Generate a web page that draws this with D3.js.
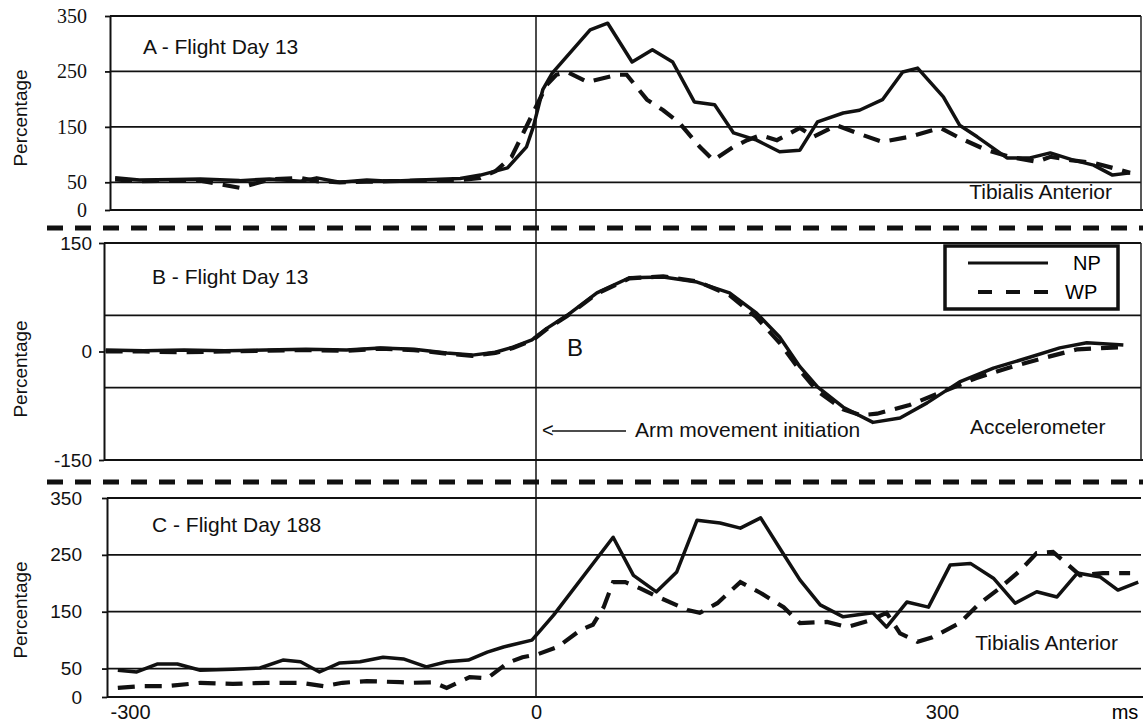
<!DOCTYPE html>
<html>
<head>
<meta charset="utf-8">
<script src="https://cdn.jsdelivr.net/npm/d3@7/dist/d3.min.js"></script>
<style>
  body { margin: 0; background: #fff; }
  svg { display: block; font-family: "Liberation Sans", Arial, sans-serif; }
</style>
</head>
<body>
<div id="chart"></div>
<script>
// ms from arm movement initiation, values in percent
var xTicks = [-300, 0, 300];

var tickA = [0, 50, 150, 250, 350];
var gridA = [50, 150, 250, 350];
var aNPTime = [-311,-293,-267,-248,-219,-197,-174,-162,-145,-125,-108,-86,-56,-41,-21,-7,-2,5,12,40,53,71,86,101,117,132,146,163,180,195,208,227,239,256,271,282,301,313,326,348,365,380,397,412,426,439];
var aNP = [58,54,55,56,53,56,52,58,50,54,52,54,57,63,76,114,150,217,247,325,337,267,289,267,195,190,139,126,105,108,159,175,180,199,249,256,204,153,132,94,94,103,90,81,63,67];
var aWPTime = [-311,-293,-267,-248,-219,-197,-174,-162,-145,-125,-108,-86,-56,-41,-30,-18,-12,-3,8,15,23,38,60,67,82,94,106,121,131,146,156,166,178,195,205,222,237,256,276,299,313,333,350,370,380,395,412,426,439];
var aWP = [55,52,53,53,40,55,58,52,50,51,52,53,54,58,70,96,126,171,226,244,249,231,244,244,199,180,157,114,90,114,126,135,126,148,132,153,139,123,132,148,130,108,96,87,96,90,85,76,67];

var tickB = [-150, 0, 150];
var gridB = [-150, -50, 50, 150];
var bNPTime = [-318,-290,-260,-230,-200,-170,-140,-115,-90,-66,-47,-30,-17,-3,8,23,45,69,94,119,143,163,180,195,208,227,249,269,289,313,338,363,387,407,434];
var bNP = [2,1,2,1,2,3,2,5,3,-2,-5,-1,6,16,32,50,81,102,103,96,81,53,20,-21,-49,-77,-98,-92,-71,-42,-23,-9,5,12,9];
var bWPTime = [-318,-290,-260,-230,-200,-170,-140,-115,-90,-66,-47,-30,-17,-3,8,23,45,69,94,119,143,163,180,195,208,227,240,252,276,300,325,350,375,400,434];
var bWP = [0,0,-1,0,1,2,1,4,2,-3,-6,-2,5,15,31,49,80,101,104,97,78,47,12,-26,-55,-80,-88,-86,-74,-56,-37,-22,-9,3,6];

var tickC = [0, 50, 150, 250, 350];
var gridC = [50, 150, 250, 350];
var cNPTime = [-309,-295,-280,-265,-248,-224,-204,-187,-174,-160,-145,-130,-113,-98,-81,-66,-50,-36,-24,-3,13,57,72,89,104,119,136,151,166,180,195,210,227,249,259,274,290,306,321,338,354,370,385,400,417,430,445];
var cNP = [47,44,58,58,47,49,51,65,62,44,60,62,70,67,53,62,65,79,88,100,144,281,214,185,220,311,306,297,315,262,206,162,141,148,123,167,158,232,235,209,165,185,176,218,211,188,202];
var cWPTime = [-309,-293,-273,-248,-224,-199,-174,-157,-143,-125,-100,-91,-76,-66,-49,-36,-21,-10,1,16,33,42,50,57,66,77,92,112,121,134,151,166,183,195,215,230,247,259,269,282,293,313,328,343,358,370,382,392,402,419,439];
var cWP = [16,19,19,25,23,25,25,19,25,28,26,25,26,16,35,33,60,70,75,88,118,127,158,202,202,191,174,153,148,165,202,183,158,130,132,123,135,148,112,97,105,130,165,192,223,253,255,235,214,218,218];

function zip(t, v) {
    return t.map(function(d, i) { return [d, v[i]]; });
}

var panels = [
    { title: 'A - Flight Day 13', domain: [0, 350], top: 16, bottom: 210, axisX: 110, pad: 18, serif: true,
      ticks: tickA, grid: gridA, np: zip(aNPTime, aNP), wp: zip(aWPTime, aWP), right: true,
      titleX: 143, titleY: 54, pctY: 118 },
    { title: 'B - Flight Day 13', domain: [-150, 150], top: 243, bottom: 460, axisX: 104, pad: 7, serif: false,
      ticks: tickB, grid: gridB, np: zip(bNPTime, bNP), wp: zip(bWPTime, bWP), right: true,
      titleX: 152, titleY: 284, pctY: 369 },
    { title: 'C - Flight Day 188', domain: [0, 350], top: 498, bottom: 697, axisX: 107, pad: 20, serif: false,
      ticks: tickC, grid: gridC, np: zip(cNPTime, cNP), wp: zip(cWPTime, cWP), right: false,
      titleX: 152, titleY: 532, pctY: 610 }
];

var width = 1143, height = 725, rightX = 1141;

var svg = d3.select("#chart").append("svg")
    .attr("width", width)
    .attr("height", height);

var x = d3.scaleLinear()
    .domain([-300, 300])
    .range([130, 942]);

// plain hyphen for negatives, like the original
var fmt = function(d) { return String(d); };

panels.forEach(function(p) {
    var y = d3.scaleLinear().domain(p.domain).range([p.bottom, p.top]);
    var g = svg.append("g");

    g.selectAll("line.grid")
        .data(p.grid)
        .enter().append("line")
        .attr("class", "grid")
        .attr("x1", p.axisX).attr("x2", rightX)
        .attr("y1", function(d) { return y(d); })
        .attr("y2", function(d) { return y(d); })
        .attr("stroke", "#111").attr("stroke-width", 1.8);

    // bottom line of the panel
    g.append("line")
        .attr("x1", p.axisX).attr("x2", 1143)
        .attr("y1", y(p.domain[0])).attr("y2", y(p.domain[0]))
        .attr("stroke", "#111").attr("stroke-width", 2);

    if (p.right) {
        g.append("line")
            .attr("x1", rightX).attr("x2", rightX)
            .attr("y1", p.top).attr("y2", p.bottom)
            .attr("stroke", "#222").attr("stroke-width", 1.5);
    }

    var axis = g.append("g")
        .attr("transform", "translate(" + p.axisX + ",0)")
        .call(d3.axisLeft(y).tickValues(p.ticks).tickFormat(fmt)
            .tickSizeInner(5).tickSizeOuter(0).tickPadding(p.pad));
    axis.select(".domain").attr("stroke", "#111").attr("stroke-width", 2);
    axis.selectAll(".tick line").attr("stroke", "#111").attr("stroke-width", 1.8);
    axis.selectAll(".tick text")
        .attr("fill", "#111")
        .style("font-size", p.serif ? "20px" : "19px")
        .style("font-family", p.serif ? "'Liberation Serif', serif" : null);

    var line = d3.line()
        .x(function(d) { return x(d[0]); })
        .y(function(d) { return y(d[1]); });

    g.append("path")
        .datum(p.wp)
        .attr("d", line)
        .attr("fill", "none")
        .attr("stroke", "#111")
        .attr("stroke-width", 4.2)
        .attr("stroke-dasharray", "17,10");

    g.append("path")
        .datum(p.np)
        .attr("d", line)
        .attr("fill", "none")
        .attr("stroke", "#111")
        .attr("stroke-width", 3.5)
        .attr("stroke-linejoin", "round");

    g.append("text")
        .attr("x", p.titleX).attr("y", p.titleY)
        .style("font-size", "21px")
        .attr("fill", "#111")
        .text(p.title);

    g.append("text")
        .attr("transform", "translate(20," + p.pctY + ") rotate(-90)")
        .attr("text-anchor", "middle")
        .attr("dominant-baseline", "central")
        .style("font-size", "19px")
        .attr("fill", "#111")
        .text("Percentage");
});

// separators between the panels
[228, 482].forEach(function(yy) {
    svg.append("line")
        .attr("x1", 47).attr("x2", 1143)
        .attr("y1", yy).attr("y2", yy)
        .attr("stroke", "#111").attr("stroke-width", 5)
        .attr("stroke-dasharray", "16,12");
});

// movement onset
svg.append("line")
    .attr("x1", x(0)).attr("x2", x(0))
    .attr("y1", 15).attr("y2", 698)
    .attr("stroke", "#111").attr("stroke-width", 1.5);

var xAxis = svg.append("g")
    .attr("transform", "translate(0,697)")
    .call(d3.axisBottom(x).tickValues(xTicks).tickFormat(fmt).tickSize(0).tickPadding(8));
xAxis.select(".domain").remove();
xAxis.selectAll(".tick text").attr("fill", "#111").style("font-size", "20px");

svg.append("text")
    .attr("x", 1125).attr("y", 719)
    .attr("text-anchor", "middle")
    .style("font-size", "20px")
    .text("ms");

// labels
var labels = [
    { t: "Tibialis Anterior", x: 1112, y: 199, anchor: "end", size: 21 },
    { t: "Tibialis Anterior", x: 1118, y: 650, anchor: "end", size: 21 },
    { t: "Accelerometer", x: 970, y: 434, anchor: "start", size: 21 },
    { t: "Arm movement initiation", x: 635, y: 437, anchor: "start", size: 21 },
    { t: "<", x: 542, y: 437, anchor: "start", size: 20 },
    { t: "B", x: 567, y: 356, anchor: "start", size: 24 }
];
svg.selectAll("text.lab")
    .data(labels)
    .enter().append("text")
    .attr("class", "lab")
    .attr("x", function(d) { return d.x; })
    .attr("y", function(d) { return d.y; })
    .attr("text-anchor", function(d) { return d.anchor; })
    .style("font-size", function(d) { return d.size + "px"; })
    .attr("fill", "#111")
    .text(function(d) { return d.t; });

svg.append("line")
    .attr("x1", 552).attr("x2", 626)
    .attr("y1", 431).attr("y2", 431)
    .attr("stroke", "#111").attr("stroke-width", 1.5);

// legend
var legend = svg.append("g");
legend.append("rect")
    .attr("x", 945).attr("y", 246)
    .attr("width", 173).attr("height", 63)
    .attr("fill", "#fff")
    .attr("stroke", "#111").attr("stroke-width", 3.5);
legend.append("line")
    .attr("x1", 968).attr("x2", 1048).attr("y1", 263).attr("y2", 263)
    .attr("stroke", "#111").attr("stroke-width", 3);
legend.append("line")
    .attr("x1", 978).attr("x2", 1048).attr("y1", 292).attr("y2", 292)
    .attr("stroke", "#111").attr("stroke-width", 4)
    .attr("stroke-dasharray", "14,14");
legend.append("text")
    .attr("x", 1073).attr("y", 270)
    .style("font-size", "20px").text("NP");
legend.append("text")
    .attr("x", 1065).attr("y", 299)
    .style("font-size", "20px").text("WP");
</script>
</body>
</html>
